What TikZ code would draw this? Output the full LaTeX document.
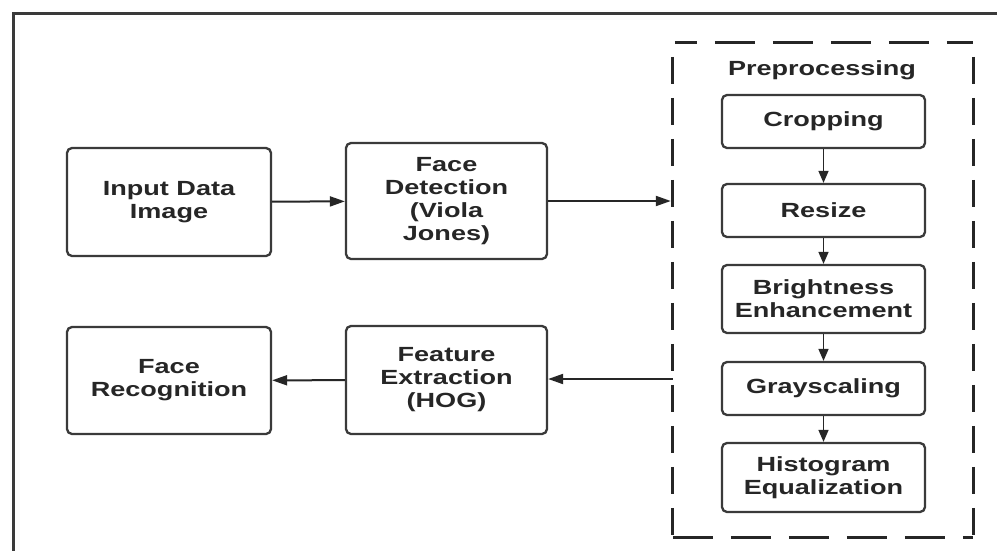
\documentclass[tikz,border=0pt]{standalone}
\usepackage{fontspec}
\setmainfont[FakeStretch=1.32]{Liberation Sans}
\usetikzlibrary{arrows.meta}
\definecolor{ink}{HTML}{262626}
\definecolor{edge}{HTML}{3A3A3A}
\begin{document}
\begin{tikzpicture}[x=1pt,y=-1pt,
  box/.style={draw=edge, line width=2.3pt, rounded corners=5pt, align=center,
    font=\fontsize{20.5}{23}\selectfont\bfseries, text=ink, inner sep=0pt},
  prebox/.style={box, minimum width=203pt},
  arr/.style={draw=ink, line width=2pt, -{Triangle[length=15pt,width=10pt]}},
  varr/.style={draw=ink, line width=1.6pt, -{Triangle[length=12pt,width=10pt]}},
  dashH/.style={draw=ink, line width=3pt, dash pattern=on 40pt off 18pt},
  dashV/.style={draw=ink, line width=3pt, dash pattern=on 27pt off 14pt}
]
\useasboundingbox (0,0) rectangle (997,550);
\fill[white] (0,0) rectangle (997,550);

% outer frame (runs off the right and bottom)
\draw[edge, line width=3pt] (13,570) -- (13,13) -- (1010,13);

% main pipeline
\node[box, minimum width=204pt, minimum height=108pt] (input) at (169,202) {Input Data\\Image};
\node[box, minimum width=201pt, minimum height=116pt] (detect) at (446.5,201) {Face\\Detection\\(Viola\\Jones)};
\node[box, minimum width=204pt, minimum height=107pt] (recog) at (169,380.5) {Face\\Recognition};
\node[box, minimum width=201pt, minimum height=108pt] (feat) at (446.5,380) {Feature\\Extraction\\(HOG)};

% preprocessing group
\node[minimum width=300pt, minimum height=494pt, inner sep=0pt] (prep) at (823,290) {};
\draw[dashH, dash phase=18pt] ([xshift=2pt]prep.north west) -- (prep.north east);
\draw[dashV, dash phase=-14pt] (prep.north west) -- (prep.south west);
\draw[dashV, dash phase=-14pt] (prep.north east) -- (prep.south east);
\draw[dashH, dash phase=0pt] (prep.south west) -- (prep.south east);

\node[font=\fontsize{20.5}{23}\selectfont\bfseries, text=ink] (ptitle) at (822,70) {Preprocessing};
\node[prebox, minimum height=53pt] (crop) at (823.5,121.5) {Cropping};
\node[prebox, minimum height=53pt] (resize) at (823.5,210.5) {Resize};
\node[prebox, minimum height=68pt] (bright) at (823.5,299) {Brightness\\Enhancement};
\node[prebox, minimum height=53pt] (gray) at (823.5,388.5) {Grayscaling};
\node[prebox, minimum height=69pt] (hist) at (823.5,477.5) {Histogram\\Equalization};

% connectors
\draw[arr] (input) -- (detect);
\draw[arr] (detect.east) -- ([xshift=-2pt]detect.east -| prep.west);
\draw[arr] ([yshift=1pt]feat.east -| prep.west) -- ([yshift=1pt]feat.east);
\draw[arr] (feat) -- (recog);
\draw[varr] (crop) -- (resize);
\draw[varr] (resize) -- (bright);
\draw[varr] (bright) -- (gray);
\draw[varr] (gray) -- (hist);
\end{tikzpicture}
\end{document}
